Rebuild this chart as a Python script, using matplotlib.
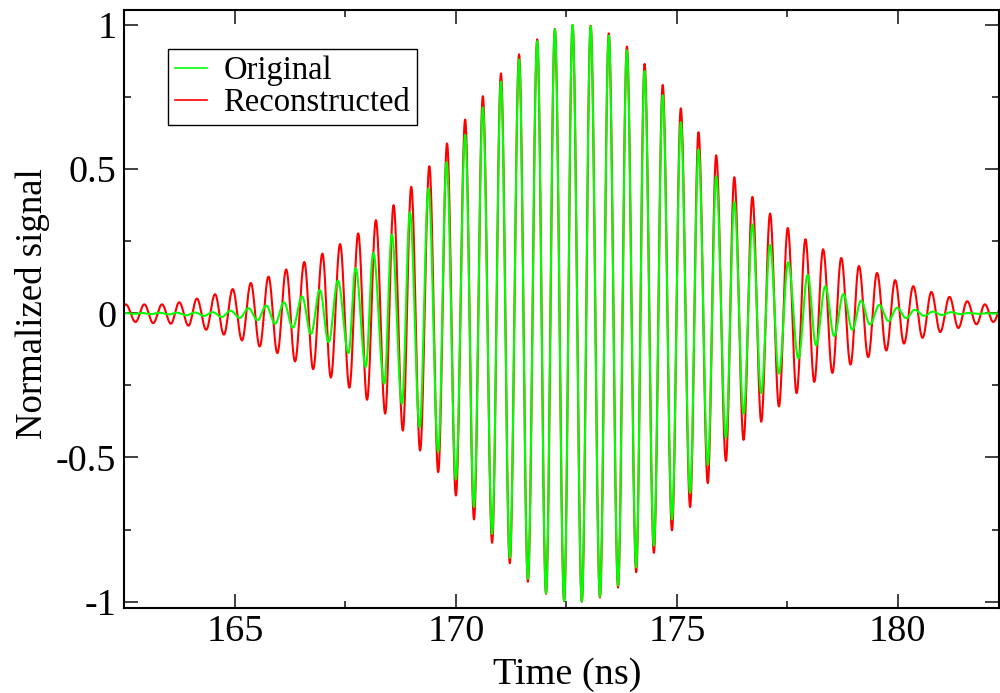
import numpy as np
import matplotlib
matplotlib.use("Agg")
import matplotlib.pyplot as plt
from matplotlib.ticker import FixedLocator, FixedFormatter

plt.rcParams["font.family"] = ["Liberation Serif", "DejaVu Serif"]
plt.rcParams["axes.unicode_minus"] = False

series_names = ["Original", "Reconstructed"]
series_colors = ["#00ff00", "#ff0000"]

# Reconstructed pulse: crest / trough times (ns) and normalized amplitudes
recon_peak_t = [162.53, 162.95, 163.35, 163.74, 164.14, 164.55, 164.95, 165.36, 165.76,
                166.16, 166.57, 166.98, 167.38, 167.79, 168.19, 168.59, 168.99, 169.40,
                169.80, 170.21, 170.61, 171.02, 171.43, 171.84, 172.24, 172.64, 173.05,
                173.46, 173.87, 174.27, 174.68, 175.09, 175.49, 175.89, 176.30, 176.71,
                177.11, 177.51, 177.91, 178.31, 178.72, 179.12, 179.53, 179.94, 180.35,
                180.76, 181.17, 181.57, 181.97, 182.37]
recon_peak_v = [0.031, 0.031, 0.031, 0.038, 0.051, 0.066, 0.084, 0.105, 0.127, 0.152,
                0.178, 0.207, 0.240, 0.277, 0.323, 0.375, 0.439, 0.510, 0.589, 0.672,
                0.753, 0.832, 0.898, 0.950, 0.986, 1.000, 0.997, 0.971, 0.925, 0.865,
                0.792, 0.711, 0.628, 0.548, 0.472, 0.404, 0.346, 0.296, 0.257, 0.222,
                0.192, 0.164, 0.140, 0.115, 0.094, 0.074, 0.057, 0.042, 0.031, 0.030]
recon_trough_t = [162.33, 162.75, 163.15, 163.55, 163.95, 164.35, 164.75, 165.16, 165.56,
                  165.96, 166.36, 166.77, 167.17, 167.59, 167.99, 168.40, 168.80, 169.19,
                  169.60, 170.00, 170.41, 170.82, 171.22, 171.63, 172.04, 172.45, 172.85,
                  173.26, 173.67, 174.08, 174.48, 174.89, 175.30, 175.70, 176.11, 176.51,
                  176.91, 177.31, 177.71, 178.11, 178.52, 178.93, 179.33, 179.74, 180.14,
                  180.56, 180.96, 181.37, 181.78, 182.16]
recon_trough_v = [-0.030, -0.030, -0.034, -0.036, -0.043, -0.057, -0.074, -0.094, -0.115,
                  -0.138, -0.167, -0.194, -0.223, -0.258, -0.300, -0.348, -0.407, -0.476,
                  -0.551, -0.632, -0.715, -0.796, -0.867, -0.931, -0.973, -0.998, -1.000,
                  -0.986, -0.951, -0.898, -0.831, -0.753, -0.672, -0.589, -0.512, -0.439,
                  -0.376, -0.323, -0.277, -0.238, -0.207, -0.178, -0.152, -0.129, -0.105,
                  -0.085, -0.065, -0.051, -0.038, -0.030]

# Original pulse: crest / trough times (ns) and normalized amplitudes
orig_peak_t = [162.48, 162.90, 163.30, 163.69, 164.09, 164.50, 164.90, 165.31, 165.71,
               166.11, 166.52, 166.92, 167.33, 167.73, 168.13, 168.55, 168.96, 169.38,
               169.79, 170.21, 170.61, 171.02, 171.43, 171.84, 172.24, 172.64, 173.05,
               173.46, 173.87, 174.27, 174.68, 175.09, 175.49, 175.89, 176.30, 176.71,
               177.11, 177.52, 177.96, 178.36, 178.77, 179.17, 179.58, 179.98, 180.38,
               180.79, 181.20, 181.60, 182.00, 182.40]
orig_peak_v = [0.001, 0.001, 0.002, 0.002, 0.003, 0.004, 0.009, 0.018, 0.027, 0.038,
               0.058, 0.081, 0.113, 0.157, 0.209, 0.273, 0.350, 0.433, 0.524, 0.619,
               0.714, 0.804, 0.880, 0.944, 0.985, 1.000, 0.995, 0.963, 0.912, 0.840,
               0.756, 0.663, 0.568, 0.475, 0.387, 0.308, 0.237, 0.177, 0.133, 0.094,
               0.067, 0.044, 0.029, 0.019, 0.012, 0.006, 0.004, 0.001, 0.000, 0.000]
orig_trough_t = [162.28, 162.70, 163.10, 163.50, 163.90, 164.30, 164.70, 165.11, 165.51,
                 165.91, 166.31, 166.72, 167.12, 167.57, 167.96, 168.38, 168.78, 169.18,
                 169.60, 170.00, 170.41, 170.82, 171.22, 171.63, 172.04, 172.45, 172.85,
                 173.26, 173.67, 174.08, 174.48, 174.89, 175.30, 175.70, 176.11, 176.51,
                 176.91, 177.31, 177.75, 178.15, 178.56, 178.97, 179.37, 179.79, 180.19,
                 180.60, 181.00, 181.41, 181.82, 182.20]
orig_trough_v = [-0.001, -0.002, -0.003, -0.004, -0.007, -0.009, -0.013, -0.016, -0.024,
                 -0.036, -0.050, -0.072, -0.100, -0.138, -0.186, -0.244, -0.314, -0.395,
                 -0.481, -0.576, -0.672, -0.765, -0.848, -0.921, -0.971, -0.998, -1.000,
                 -0.983, -0.944, -0.881, -0.806, -0.715, -0.623, -0.526, -0.432, -0.348,
                 -0.277, -0.209, -0.157, -0.111, -0.079, -0.057, -0.039, -0.027, -0.017,
                 -0.009, -0.006, -0.003, -0.002, -0.001]

x_ticks = [165, 170, 175, 180]
x_tick_labels = ["165", "170", "175", "180"]
x_minor = [162.5, 167.5, 172.5, 177.5]
y_ticks = [-1, -0.5, 0, 0.5, 1]
y_tick_labels = ["-1", "-0.5", "0", "0.5", "1"]
y_minor = [-0.75, -0.25, 0.25, 0.75]


def trace(crest_t, crest_v, trough_t, trough_v, steps=24):
    """Join successive extrema with smooth half-cosine arcs."""
    t = np.concatenate([crest_t, trough_t])
    v = np.concatenate([crest_v, trough_v])
    order = np.argsort(t)
    t, v = t[order], v[order]
    s = np.linspace(0.0, 1.0, steps, endpoint=False)
    w = 0.5 * (1.0 - np.cos(np.pi * s))
    xs, ys = [], []
    for i in range(len(t) - 1):
        xs.append(t[i] + (t[i + 1] - t[i]) * s)
        ys.append(v[i] + (v[i + 1] - v[i]) * w)
    xs.append([t[-1]])
    ys.append([v[-1]])
    return np.concatenate(xs), np.concatenate(ys)


fig = plt.figure(figsize=(10, 6.93), dpi=100)
ax = fig.add_axes([0.124, 0.1227, 0.875, 0.8629])

rx, ry = trace(recon_peak_t, recon_peak_v, recon_trough_t, recon_trough_v)
ox, oy = trace(orig_peak_t, orig_peak_v, orig_trough_t, orig_trough_v)
line_r, = ax.plot(rx, ry, color=series_colors[1], lw=1.5, label=series_names[1])
line_o, = ax.plot(ox, oy, color=series_colors[0], lw=1.5, label=series_names[0])

ax.set_xlim(162.49, 182.29)
ax.set_ylim(-1.022, 1.052)

ax.xaxis.set_major_locator(FixedLocator(x_ticks))
ax.xaxis.set_major_formatter(FixedFormatter(x_tick_labels))
ax.xaxis.set_minor_locator(FixedLocator(x_minor))
ax.yaxis.set_major_locator(FixedLocator(y_ticks))
ax.yaxis.set_major_formatter(FixedFormatter(y_tick_labels))
ax.yaxis.set_minor_locator(FixedLocator(y_minor))

ax.tick_params(which="both", direction="in", top=True, right=True,
               width=1.3, color="#333333")
ax.tick_params(which="major", length=10, labelsize=27.5)
ax.tick_params(which="minor", length=5)
ax.tick_params(axis="x", which="major", pad=5)
ax.tick_params(axis="y", which="major", pad=5.5)
for sp in ax.spines.values():
    sp.set_linewidth(1.5)

ax.set_xlabel("Time (ns)", fontsize=27.5)
ax.set_ylabel("Normalized signal", fontsize=26.5)
ax.xaxis.set_label_coords(0.506, -0.082)
ax.yaxis.set_label_coords(-0.0846, 0.509)

leg = ax.legend(handles=[line_o, line_r], loc="upper left",
                bbox_to_anchor=(0.0503, 0.9348), borderaxespad=0.0,
                fontsize=23.5, handlelength=1.0, handletextpad=0.5,
                borderpad=0.2, labelspacing=0.05, fancybox=False,
                framealpha=1.0, edgecolor="black")
leg.get_frame().set_linewidth(1.0)
for h in leg.get_lines():
    h.set_linewidth(1.2)

fig.savefig("out.png", dpi=100)
